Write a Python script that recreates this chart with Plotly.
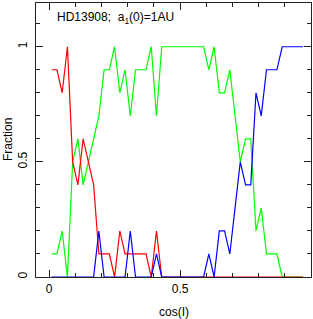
import plotly.graph_objects as go

cos_i = [round(0.01 + 0.02 * i, 3) for i in range(49)]

red = [0.9, 0.9, 0.8, 1.0, 0.5, 0.4, 0.6, 0.5, 0.4, 0.1,
       0.1, 0.1, 0.0, 0.2, 0.1, 0.1, 0.1, 0.1, 0.1, 0.0,
       0.2, 0.0, 0.0, 0.0, 0.0, 0.0, 0.0, 0.0, 0.0, 0.0,
       0.0, 0.0, 0.0, 0.0, 0.0, 0.0, 0.0, 0.0, 0.0, 0.0,
       0.0, 0.0, 0.0, 0.0, 0.0, 0.0, 0.0, 0.0, 0.0]

green = [0.1, 0.1, 0.2, 0.0, 0.5, 0.6, 0.4, 0.5, 0.6, 0.7,
         0.9, 0.9, 1.0, 0.8, 0.9, 0.7, 0.9, 0.9, 0.9, 1.0,
         0.7, 1.0, 1.0, 1.0, 1.0, 1.0, 1.0, 1.0, 1.0, 1.0,
         0.9, 1.0, 0.8, 0.8, 0.9, 0.7, 0.5, 0.6, 0.6, 0.2,
         0.3, 0.1, 0.1, 0.1, 0.0, 0.0, 0.0, 0.0, 0.0]

blue = [0.0, 0.0, 0.0, 0.0, 0.0, 0.0, 0.0, 0.0, 0.0, 0.2,
        0.0, 0.0, 0.0, 0.0, 0.0, 0.2, 0.0, 0.0, 0.0, 0.0,
        0.1, 0.0, 0.0, 0.0, 0.0, 0.0, 0.0, 0.0, 0.0, 0.0,
        0.1, 0.0, 0.2, 0.2, 0.1, 0.3, 0.5, 0.4, 0.4, 0.8,
        0.7, 0.9, 0.9, 0.9, 1.0, 1.0, 1.0, 1.0, 1.0]

x_ticks = [0, 0.5, 1]
x_ticklabels = ["0", "0.5", "1"]
y_ticks = [0, 0.5, 1]
y_ticklabels = ["0", "0.5", "1"]

FONT = "Liberation Sans, Arial, sans-serif"

fig = go.Figure()
for vals, col in [(green, "#00ff00"), (red, "#ff0000"), (blue, "#0000ff")]:
    fig.add_trace(go.Scatter(x=cos_i, y=vals, mode="lines",
                             line=dict(color=col, width=1.2),
                             showlegend=False, hoverinfo="skip"))

axis_common = dict(
    showgrid=False, zeroline=False, showline=True, linecolor="#222",
    linewidth=1.2, mirror="ticks", ticks="inside", ticklen=7,
    tickcolor="#222", tickwidth=1, automargin=False,
    tickfont=dict(family=FONT, size=12, color="black"),
    minor=dict(ticks="inside", ticklen=4, dtick=0.1, tickcolor="#222", tickwidth=1),
)

fig.update_xaxes(range=[-0.05, 1.0], tickvals=x_ticks, ticktext=x_ticklabels,
                 ticklabelstandoff=0, **axis_common)
fig.update_yaxes(range=[0, 1.19], tickvals=y_ticks, ticktext=y_ticklabels,
                 tickangle=-90, ticklabelstandoff=3, **axis_common)

fig.update_layout(
    width=313, height=319,
    margin=dict(l=36, r=2, t=3, b=42),
    paper_bgcolor="white", plot_bgcolor="white",
    font=dict(family=FONT, size=12, color="black"),
    annotations=[
        dict(text="HD13908;  a<sub>1</sub>(0)=1AU", xref="paper", yref="paper",
             x=(55 - 36) / 275, y=(277 - 18) / 274, xanchor="left",
             yanchor="middle", showarrow=False,
             font=dict(size=12, color="black")),
        dict(text="Fraction", xref="paper", yref="paper", x=-28 / 275,
             y=0.5, textangle=-90, xanchor="center", yanchor="middle",
             showarrow=False, font=dict(size=12, color="black")),
        dict(text="cos(I)", xref="paper", yref="paper", x=0.5,
             y=-35 / 274, xanchor="center", yanchor="middle",
             showarrow=False, font=dict(size=12, color="black")),
    ],
)

fig.write_html("out.html", config={"displayModeBar": False},
               post_script="document.body.style.margin='0';document.body.style.padding='0';")
